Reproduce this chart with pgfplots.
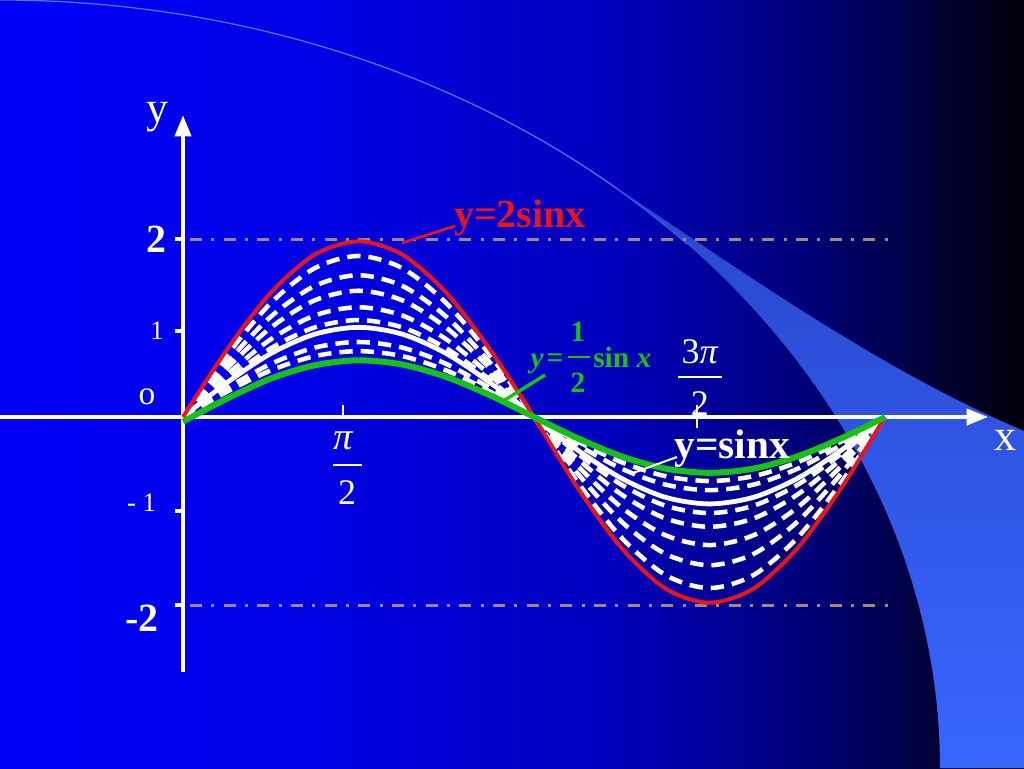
\documentclass[border=0pt]{standalone}
\usepackage{pgfplots}
\pgfplotsset{compat=1.18}
\usepackage{pgfplotstable}
\usepackage{fontspec}
\setmainfont{Liberation Serif}
\usetikzlibrary{arrows.meta}
\definecolor{redc}{RGB}{235,20,25}
\definecolor{greenc}{RGB}{20,195,20}
\definecolor{tanc}{RGB}{165,135,118}
\definecolor{arcc}{RGB}{80,125,255}
\pgfdeclarehorizontalshading{bgshade}{100bp}{rgb(0bp)=(0,0,0.98); rgb(25bp)=(0,0,0.98); rgb(40bp)=(0,0,0.9); rgb(55bp)=(0,0,0.74); rgb(65bp)=(0,0,0.45); rgb(72bp)=(0,0,0.15); rgb(75bp)=(0,0,0.04); rgb(100bp)=(0,0,0.04)}

\pgfplotstableread{
x r d1 d2 d3 d4 d5 s d6 d7 g
0 0 0 0 0 0 0 0 0 0 -0.05
0.3927 0.735 0.674 0.593 0.528 0.459 0.406 0.375 0.314 0.276 0.20
0.7854 1.358 1.245 1.096 0.976 0.849 0.750 0.693 0.580 0.509 0.420
1.1781 1.774 1.626 1.432 1.275 1.109 0.979 0.905 0.758 0.665 0.565
1.5708 1.92 1.76 1.55 1.38 1.20 1.06 0.98 0.82 0.72 0.62
1.9635 1.774 1.626 1.432 1.275 1.109 0.979 0.905 0.758 0.665 0.573
2.3562 1.358 1.245 1.096 0.976 0.849 0.750 0.693 0.580 0.509 0.438
2.7489 0.735 0.674 0.593 0.528 0.459 0.406 0.375 0.314 0.276 0.237
3.1416 0 0 0 0 0 0 0 0 0 0
3.5343 -0.777 -0.716 -0.620 -0.536 -0.459 -0.402 -0.364 -0.306 -0.268 -0.233
3.9270 -1.435 -1.322 -1.146 -0.990 -0.849 -0.742 -0.672 -0.566 -0.495 -0.431
4.3197 -1.876 -1.728 -1.497 -1.293 -1.109 -0.970 -0.878 -0.739 -0.647 -0.564
4.7124 -2.03 -1.87 -1.62 -1.40 -1.20 -1.05 -0.95 -0.80 -0.70 -0.61
5.1051 -1.876 -1.728 -1.497 -1.293 -1.109 -0.970 -0.878 -0.739 -0.647 -0.564
5.4978 -1.435 -1.322 -1.146 -0.990 -0.849 -0.742 -0.672 -0.566 -0.495 -0.431
5.8905 -0.777 -0.716 -0.620 -0.536 -0.459 -0.402 -0.364 -0.306 -0.268 -0.233
6.2832 0 0 0 0 0 0 0 0 0 0
}\curves

\begin{document}
\begin{tikzpicture}
% ---------- background (pixel scope) ----------
\begin{scope}[x=0.75pt,y=-0.75pt]
\shade[shading=bgshade] (0,0) rectangle (1024,768);
\draw[arcc, line width=0.9pt] plot[domain=0:47, samples=60, smooth] ({940*sin(\x)},{768-768*cos(\x)});
\shade[top color={rgb,255:red,40;green,72;blue,205}, bottom color={rgb,255:red,56;green,102;blue,255}]
  plot[domain=41:90, samples=60, smooth] ({940*sin(\x)},{768-768*cos(\x)})
  -- (1024,768) -- (1024,431) .. controls (880,370) and (740,270) .. (617,188) -- cycle;
\end{scope}
% ---------- axis ----------
\begin{axis}[at={(0pt,-576pt)}, anchor=south west, scale only axis,
  width=768pt, height=576pt,
  xmin=-1.6379, xmax=7.5270, ymin=-3.8361, ymax=4.5574,
  axis lines=none, xtick=\empty, ytick=\empty, clip=false]
% guide lines y=2, y=-2
\addplot[tanc, line width=2.25pt, dash pattern=on 9pt off 7pt on 2.25pt off 7pt] coordinates {(0.063,1.945) (6.329,1.945)};
\addplot[tanc, line width=2.25pt, dash pattern=on 9pt off 7pt on 2.25pt off 7pt] coordinates {(0.063,-2.055) (6.329,-2.055)};
% axes
\draw[white, line width=3pt, -{Triangle[width=12pt,length=16pt]}] (axis cs:-1.64,0) -- (axis cs:7.205,0);
\draw[white, line width=3pt, -{Triangle[width=12pt,length=16pt]}] (axis cs:0,-2.787) -- (axis cs:0,3.30);
% y ticks
\draw[white, line width=3pt] (axis cs:-0.075,1.945) -- (axis cs:0,1.945);
\draw[white, line width=3pt] (axis cs:-0.075,0.940) -- (axis cs:0,0.940);
\draw[white, line width=3pt] (axis cs:-0.075,-1.027) -- (axis cs:0,-1.027);
\draw[white, line width=3pt] (axis cs:-0.075,-2.055) -- (axis cs:0,-2.055);
% x ticks
\draw[white, line width=1pt] (axis cs:1.432,0.131) -- (axis cs:1.432,0);
\draw[white, line width=1pt] (axis cs:4.600,0.131) -- (axis cs:4.600,-0.12);
% curves
\pgfplotsset{dashw/.style={white, line width=3.4pt, dash pattern=on 10pt off 6pt, smooth}}
\addplot[dashw] table[x=x,y=d1] {\curves};
\addplot[dashw] table[x=x,y=d2] {\curves};
\addplot[dashw] table[x=x,y=d3] {\curves};
\addplot[dashw] table[x=x,y=d4] {\curves};
\addplot[dashw] table[x=x,y=d5] {\curves};
\addplot[dashw] table[x=x,y=d6] {\curves};
\addplot[dashw] table[x=x,y=d7] {\curves};
\addplot[white, line width=3.6pt, smooth] table[x=x,y=s] {\curves};
\addplot[redc, line width=3pt, smooth] table[x=x,y=r] {\curves};
\addplot[greenc, line width=4.5pt, smooth] table[x=x,y=g] {\curves};
% axis labels
\node[white, font=\fontsize{33pt}{36pt}\selectfont] at (axis cs:-0.224,3.279) {y};
\node[white, font=\fontsize{33pt}{36pt}\selectfont] at (axis cs:7.357,-0.251) {x};
\node[white, font=\fontsize{30pt}{34pt}\selectfont\bfseries] at (axis cs:-0.233,1.945) {2};
\node[white, font=\fontsize{20pt}{24pt}\selectfont] at (axis cs:-0.233,0.940) {1};
\node[white, font=\fontsize{25pt}{28pt}\selectfont] at (axis cs:-0.322,0.219) {o};
\node[white, font=\fontsize{20pt}{24pt}\selectfont] at (axis cs:-0.370,-0.940) {-\ 1};
\node[white, font=\fontsize{30pt}{34pt}\selectfont\bfseries] at (axis cs:-0.367,-2.197) {-2};
% pi/2
\node[white, font=\fontsize{29pt}{32pt}\selectfont\itshape] at (axis cs:1.432,-0.262) {π};
\draw[white, line width=1pt] (axis cs:1.343,-0.525) -- (axis cs:1.602,-0.525);
\node[white, font=\fontsize{27pt}{30pt}\selectfont] at (axis cs:1.468,-0.831) {2};
% 3pi/2
\node[white, font=\fontsize{27pt}{30pt}\selectfont] at (axis cs:4.627,0.710) {3\textit{π}};
\draw[white, line width=1pt] (axis cs:4.430,0.437) -- (axis cs:4.824,0.437);
\node[white, font=\fontsize{27pt}{30pt}\selectfont] at (axis cs:4.627,0.142) {2};
% curve labels
\node[redc, font=\fontsize{30pt}{34pt}\selectfont\bfseries] at (axis cs:3.016,2.175) {y=2sinx};
\draw[redc, line width=2pt] (axis cs:1.960,1.902) -- (axis cs:2.434,2.087);
\node[white, font=\fontsize{31pt}{34pt}\selectfont\bfseries] at (axis cs:4.914,-0.35) {y=sinx};
\draw[white, line width=1.5pt] (axis cs:4.028,-0.612) -- (axis cs:4.421,-0.437);
% green label y = 1/2 sin x
\node[greenc, font=\fontsize{22pt}{24pt}\selectfont\bfseries\itshape, anchor=base] at (axis cs:3.169,0.545) {y};
\node[greenc, font=\fontsize{22pt}{24pt}\selectfont\bfseries, anchor=base] at (axis cs:3.33,0.545) {=};
\node[greenc, font=\fontsize{22pt}{24pt}\selectfont\bfseries] at (axis cs:3.535,0.929) {1};
\draw[greenc, line width=1.2pt] (axis cs:3.446,0.656) -- (axis cs:3.643,0.656);
\node[greenc, font=\fontsize{22pt}{24pt}\selectfont\bfseries] at (axis cs:3.535,0.372) {2};
\node[greenc, font=\fontsize{22pt}{24pt}\selectfont\bfseries, anchor=base west, inner sep=0pt] at (axis cs:3.67,0.545) {sin \textit{x}};
\draw[greenc, line width=2.5pt] (axis cs:2.837,0.153) -- (axis cs:3.240,0.459);
\end{axis}
\pgfresetboundingbox
\path (0pt,0pt) rectangle (768pt,-576pt);
\end{tikzpicture}
\end{document}
